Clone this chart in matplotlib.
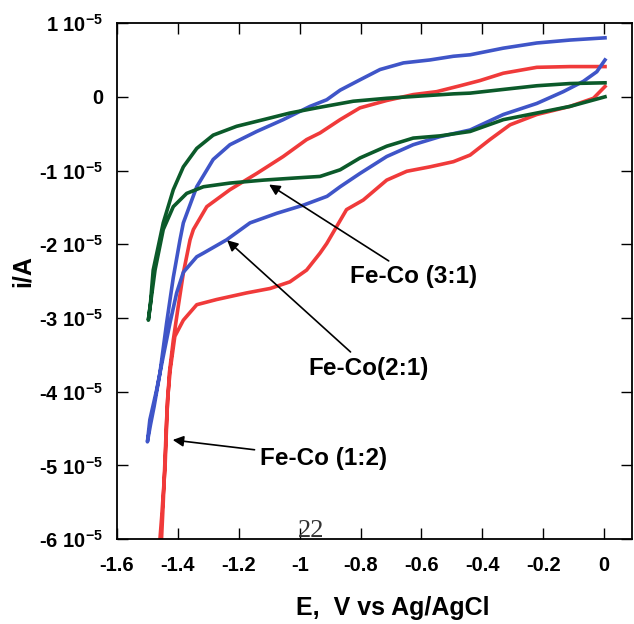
import numpy as np
import matplotlib.pyplot as plt
from matplotlib.ticker import FuncFormatter

plt.rcParams['font.family'] = ['Liberation Sans', 'DejaVu Sans']
plt.rcParams['mathtext.fontset'] = 'custom'
plt.rcParams['mathtext.rm'] = 'Liberation Sans'
plt.rcParams['mathtext.bf'] = 'Liberation Sans:bold'
plt.rcParams['axes.unicode_minus'] = False

# Datos (corriente en unidades de 1e-5 A)
# Fe-Co (2:1), azul: barrido de 0 a -1.5 V y regreso
e_azul = [0.003, -0.024, -0.068, -0.134, -0.221, -0.331, -0.440, -0.539, -0.627, -0.714,
          -0.802, -0.867, -0.910, -0.988, -1.075, -1.163, -1.240, -1.316, -1.338, -1.382,
          -1.404, -1.426, -1.448, -1.470, -1.492, -1.500,
          -1.490, -1.478, -1.459, -1.437, -1.415, -1.393, -1.382, -1.338, -1.284, -1.229,
          -1.141, -1.054, -0.966, -0.911, -0.867, -0.802, -0.736, -0.659, -0.572, -0.495,
          -0.440, -0.331, -0.221, -0.112, 0.003]
i_azul = [0.50, 0.34, 0.21, 0.07, -0.09, -0.24, -0.45, -0.54, -0.65, -0.81,
          -1.04, -1.22, -1.35, -1.47, -1.58, -1.71, -1.94, -2.12, -2.17, -2.38,
          -2.66, -3.07, -3.52, -3.98, -4.38, -4.68,
          -4.45, -4.20, -3.75, -3.07, -2.45, -1.94, -1.71, -1.22, -0.85, -0.65,
          -0.47, -0.31, -0.13, -0.04, 0.09, 0.23, 0.37, 0.46, 0.50, 0.55,
          0.57, 0.66, 0.73, 0.77, 0.80]

# Fe-Co (1:2), rojo
e_rojo = [0.003, -0.035, -0.112, -0.221, -0.309, -0.375, -0.440, -0.495, -0.572, -0.648,
          -0.714, -0.791, -0.846, -0.911, -0.933, -0.977, -1.032, -1.097, -1.174, -1.273,
          -1.338, -1.382, -1.410, -1.425, -1.434, -1.442, -1.453, -1.459, -1.462,
          -1.456, -1.448, -1.437, -1.428, -1.415, -1.399, -1.382, -1.360, -1.349, -1.305,
          -1.229, -1.141, -1.054, -0.977, -0.933, -0.867, -0.802, -0.714, -0.627, -0.550,
          -0.473, -0.408, -0.331, -0.221, -0.112, 0.003]
i_rojo = [0.14, -0.02, -0.13, -0.24, -0.38, -0.58, -0.79, -0.88, -0.95, -1.01,
          -1.13, -1.40, -1.53, -1.99, -2.12, -2.35, -2.51, -2.60, -2.66, -2.75,
          -2.82, -3.03, -3.25, -3.70, -4.11, -5.02, -5.69, -6.01, -6.40,
          -6.20, -5.50, -4.38, -3.75, -3.30, -2.85, -2.39, -1.94, -1.80, -1.49,
          -1.26, -1.04, -0.81, -0.58, -0.49, -0.31, -0.15, -0.05, 0.03, 0.07,
          0.15, 0.22, 0.32, 0.40, 0.41, 0.41]

# Fe-Co (3:1), verde
e_verde = [0.003, -0.112, -0.221, -0.331, -0.440, -0.539, -0.627, -0.714, -0.802, -0.867,
           -0.933, -1.010, -1.119, -1.229, -1.316, -1.371, -1.415, -1.448, -1.475, -1.497,
           -1.490, -1.481, -1.448, -1.415, -1.382, -1.338, -1.284, -1.207, -1.119, -1.032,
           -0.944, -0.824, -0.714, -0.605, -0.495, -0.440, -0.331, -0.221, -0.112, 0.003]
i_verde = [0.0, -0.13, -0.22, -0.31, -0.47, -0.53, -0.56, -0.67, -0.83, -0.99,
           -1.08, -1.10, -1.13, -1.17, -1.22, -1.31, -1.49, -1.80, -2.35, -3.03,
           -2.80, -2.35, -1.71, -1.26, -0.95, -0.70, -0.52, -0.40, -0.31, -0.22,
           -0.15, -0.06, -0.02, 0.01, 0.04, 0.05, 0.10, 0.15, 0.18, 0.19]

xticks = [-1.6, -1.4, -1.2, -1.0, -0.8, -0.6, -0.4, -0.2, 0.0]
yticks = [1, 0, -1, -2, -3, -4, -5, -6]

fig = plt.figure(figsize=(6.34, 6.24), dpi=100)
ax = fig.add_axes([0.1845, 0.136, 0.8125, 0.827])

ax.plot(e_rojo, np.array(i_rojo) * 1e-5, color='#f03a3a', lw=2.6)
ax.plot(e_azul, np.array(i_azul) * 1e-5, color='#3f55c8', lw=2.6)
ax.plot(e_verde, np.array(i_verde) * 1e-5, color='#0b5a2a', lw=2.6)

ax.set_xlim(-1.6, 0.092)
ax.set_ylim(-6e-5, 1e-5)
ax.set_xticks(xticks)
ax.set_yticks([v * 1e-5 for v in yticks])


def fmt_x(v, pos):
    return '%g' % round(v, 2)


def fmt_y(v, pos):
    n = int(round(v / 1e-5))
    if n == 0:
        return '0'
    return '%d 10$^{\\mathbf{-5}}$' % n


ax.xaxis.set_major_formatter(FuncFormatter(fmt_x))
ax.yaxis.set_major_formatter(FuncFormatter(fmt_y))
ax.tick_params(direction='in', length=8, width=1, top=True, right=True,
               labelsize=14.5)
ax.tick_params(axis='x', pad=12)
ax.tick_params(axis='y', pad=10)
for lab in ax.get_xticklabels() + ax.get_yticklabels():
    lab.set_fontweight('bold')
for s in ax.spines.values():
    s.set_linewidth(1.3)

ax.set_xlabel('E,  V vs Ag/AgCl', fontsize=18, fontweight='bold')
ax.xaxis.set_label_coords(0.536, -0.110)
ax.set_ylabel('i/A', fontsize=18, fontweight='bold')
ax.yaxis.set_label_coords(-0.160, 0.52)

flecha = dict(arrowstyle='-|>', color='black', lw=1.2, mutation_scale=16)
ax.annotate('Fe-Co (3:1)', xy=(-1.108, -1.17e-5), xytext=(-0.835, -2.44e-5),
            fontsize=17.5, fontweight='bold', va='center', arrowprops=flecha)
ax.annotate('Fe-Co(2:1)', xy=(-1.245, -1.92e-5), xytext=(-0.972, -3.68e-5),
            fontsize=17.5, fontweight='bold', va='center', arrowprops=flecha)
ax.annotate('Fe-Co (1:2)', xy=(-1.426, -4.65e-5), xytext=(-1.13, -4.90e-5),
            fontsize=17.5, fontweight='bold', va='center', arrowprops=flecha)

ax.text(-0.963, -5.89e-5, '22', family='Liberation Serif', fontsize=19,
        color='#333333', ha='center', va='center')

fig.savefig('out.png', dpi=100)
